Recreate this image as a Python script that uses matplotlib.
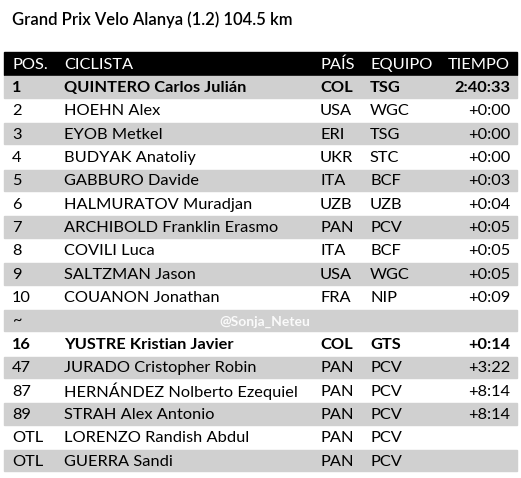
import matplotlib
matplotlib.use("Agg")
import matplotlib.pyplot as plt
from matplotlib.patches import Rectangle

title = "Grand Prix Velo Alanya (1.2) 104.5 km"
headers = ["POS.", "CICLISTA", "PAÍS", "EQUIPO", "TIEMPO"]
pos = ["1", "2", "3", "4", "5", "6", "7", "8", "9", "10", "~", "16", "47", "87", "89", "OTL", "OTL"]
riders = ["QUINTERO Carlos Julián", "HOEHN Alex", "EYOB Metkel", "BUDYAK Anatoliy", "GABBURO Davide",
          "HALMURATOV Muradjan", "ARCHIBOLD Franklin Erasmo", "COVILI Luca", "SALTZMAN Jason",
          "COUANON Jonathan", "", "YUSTRE Kristian Javier", "JURADO Cristopher Robin",
          "HERNÁNDEZ Nolberto Ezequiel", "STRAH Alex Antonio", "LORENZO Randish Abdul", "GUERRA Sandi"]
countries = ["COL", "USA", "ERI", "UKR", "ITA", "UZB", "PAN", "ITA", "USA", "FRA", "", "COL", "PAN", "PAN", "PAN", "PAN", "PAN"]
teams = ["TSG", "WGC", "TSG", "STC", "BCF", "UZB", "PCV", "BCF", "WGC", "NIP", "", "GTS", "PCV", "PCV", "PCV", "PCV", "PCV"]
times = ["2:40:33", "+0:00", "+0:00", "+0:00", "+0:03", "+0:04", "+0:05", "+0:05", "+0:05", "+0:09", "",
         "+0:14", "+3:22", "+8:14", "+8:14", "", ""]
bold_rows = {0, 11}

W, H = 521, 478
fig = plt.figure(figsize=(W/100, H/100), dpi=100)
ax = fig.add_axes([0, 0, 1, 1])
ax.set_xlim(0, W); ax.set_ylim(H, 0); ax.axis("off")
fam = ["Lato", "DejaVu Sans"]
fs = 11.8

ax.text(12, 20, title, fontsize=12, family=fam, va="center", ha="left", fontweight="semibold")

x0, x1 = 4, 517
top = 52
rh = 23.35
ax.add_patch(Rectangle((x0, top), x1-x0, rh, color="black"))
cols = [12, 64, 320, 370]
for c, h in zip(cols, headers[:4]):
    ax.text(c, top+rh/2+1, h, color="white", fontsize=fs, family=fam, va="center")
ax.text(510, top+rh/2+1, headers[4], color="white", fontsize=fs, family=fam, va="center", ha="right")

for i in range(len(pos)):
    y = top + rh*(i+1)
    if i % 2 == 0:
        ax.add_patch(Rectangle((x0, y+1), x1-x0, rh-2, color="#d0d0d0"))
    fw = "bold" if i in bold_rows else "normal"
    yc = y + rh/2 + 1
    for c, v in zip(cols, [pos[i], riders[i], countries[i], teams[i]]):
        ax.text(c, yc, v, fontsize=fs, family=fam, va="center", fontweight=fw)
    ax.text(510, yc, times[i], fontsize=fs, family=fam, va="center", ha="right", fontweight=fw)
    if pos[i] == "~":
        ax.text(265, yc, "@Sonja_Neteu", fontsize=10, family=fam, va="center", ha="center",
                color="white", fontweight="bold", alpha=0.9)

fig.savefig("out.png", dpi=100)
